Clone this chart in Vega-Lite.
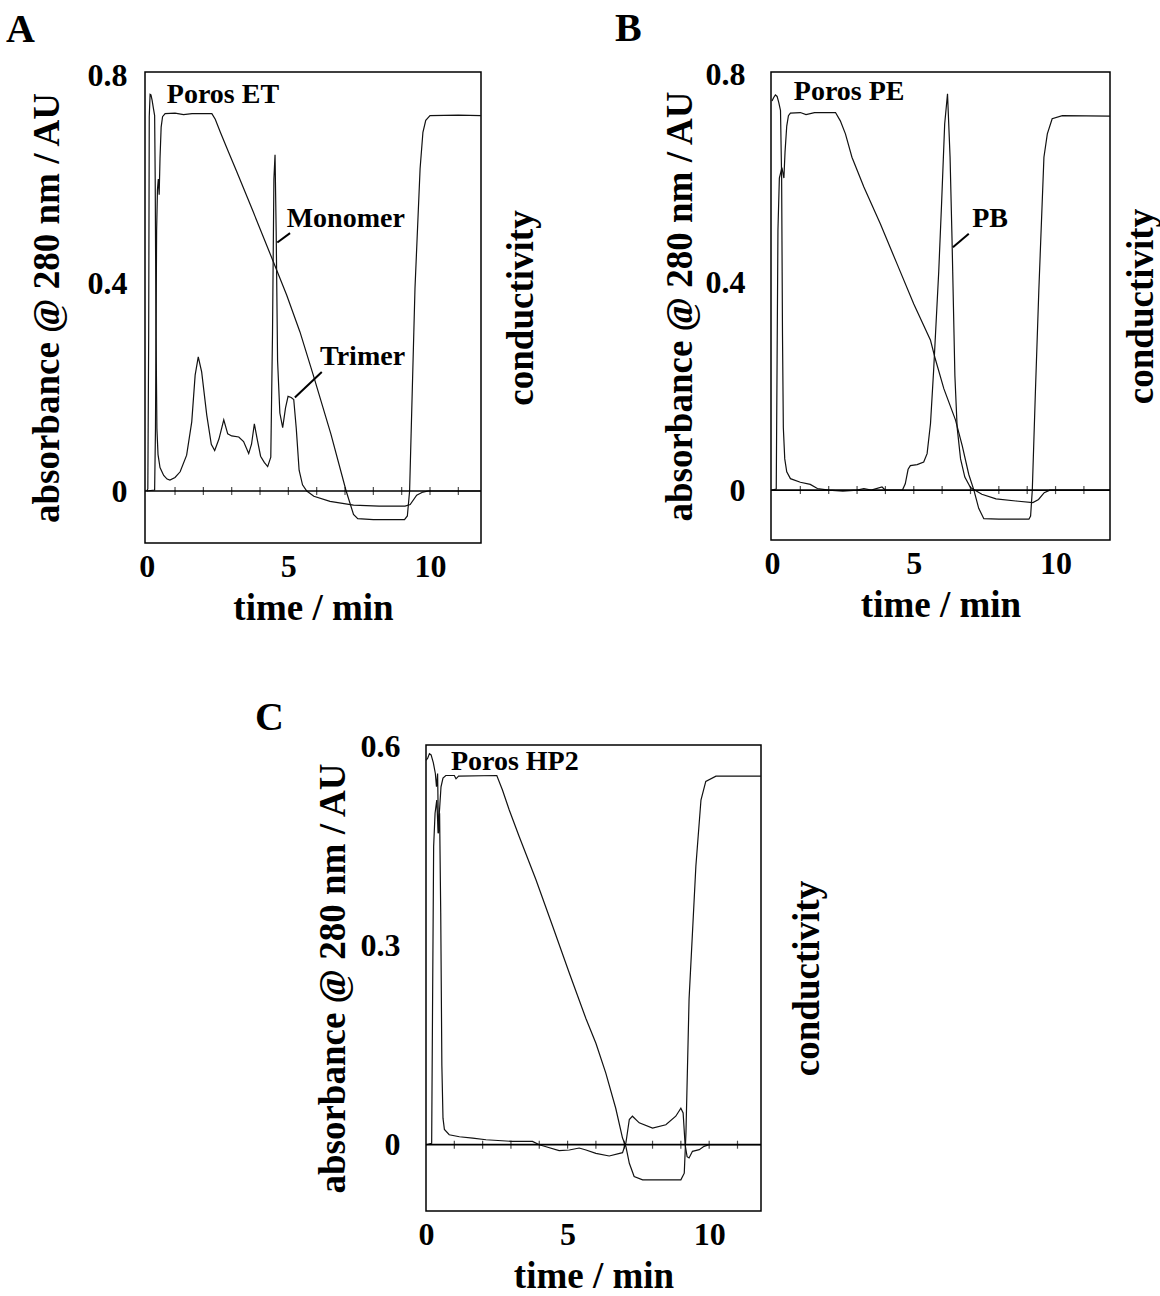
{
  "$schema": "https://vega.github.io/schema/vega-lite/v6.json",
  "padding": {"left": 5, "top": 8, "right": 0, "bottom": 0},
  "background": "white",
  "config": {
    "view": {"stroke": null},
    "font": "Liberation Serif",
    "axis": {
      "labelFont": "Liberation Serif", "labelFontWeight": "bold", "labelFontSize": 32, "labelColor": "black",
      "titleFont": "Liberation Serif", "titleFontWeight": "bold", "titleFontSize": 37, "titleColor": "black",
      "grid": false, "domain": false, "ticks": false, "labelFlush": false, "labelOverlap": false
    },
    "title": {"font": "Liberation Serif", "fontWeight": "bold", "fontSize": 40, "color": "black", "anchor": "start", "frame": "group"}
  },
  "datasets": {
    "ticks": [{"t": 1}, {"t": 2}, {"t": 3}, {"t": 4}, {"t": 5}, {"t": 6}, {"t": 7}, {"t": 8}, {"t": 9}, {"t": 10}, {"t": 11}],
    "zero": [{"v": 0}],
    "A_uv": [
      {"t":0,"v":0},{"t":0.04,"v":0.004},{"t":0.07,"v":0.3},{"t":0.09,"v":0.72},{"t":0.12,"v":0.763},{"t":0.15,"v":0.762},{"t":0.19,"v":0.752},{"t":0.24,"v":0.735},{"t":0.28,"v":0.722},{"t":0.3,"v":0.6},{"t":0.33,"v":0.3},{"t":0.36,"v":0.12},{"t":0.4,"v":0.07},{"t":0.47,"v":0.045},{"t":0.6,"v":0.03},{"t":0.72,"v":0.023},{"t":0.82,"v":0.021},{"t":1.0,"v":0.026},{"t":1.18,"v":0.037},{"t":1.41,"v":0.069},{"t":1.59,"v":0.133},{"t":1.71,"v":0.223},{"t":1.82,"v":0.258},{"t":1.94,"v":0.229},{"t":2.12,"v":0.146},{"t":2.28,"v":0.09},{"t":2.4,"v":0.078},{"t":2.55,"v":0.1},{"t":2.72,"v":0.137},{"t":2.86,"v":0.11},{"t":3.0,"v":0.106},{"t":3.25,"v":0.104},{"t":3.42,"v":0.095},{"t":3.6,"v":0.072},{"t":3.7,"v":0.09},{"t":3.8,"v":0.129},{"t":3.9,"v":0.1},{"t":4.02,"v":0.067},{"t":4.15,"v":0.055},{"t":4.27,"v":0.047},{"t":4.38,"v":0.065},{"t":4.44,"v":0.3},{"t":4.49,"v":0.6},{"t":4.53,"v":0.647},{"t":4.57,"v":0.5},{"t":4.62,"v":0.25},{"t":4.7,"v":0.15},{"t":4.8,"v":0.122},{"t":4.9,"v":0.16},{"t":4.99,"v":0.182},{"t":5.1,"v":0.18},{"t":5.19,"v":0.176},{"t":5.28,"v":0.12},{"t":5.38,"v":0.04},{"t":5.5,"v":0.012},{"t":5.65,"v":0.0},{"t":5.9,"v":-0.01},{"t":6.47,"v":-0.02},{"t":7.3,"v":-0.027},{"t":8.2,"v":-0.029},{"t":9.12,"v":-0.029},{"t":9.3,"v":-0.026},{"t":9.53,"v":-0.008},{"t":9.75,"v":-0.002},{"t":9.94,"v":0.0},{"t":11.8,"v":0.0}
    ],
    "A_cond": [
      {"t":0,"v":0},{"t":0.28,"v":0.002},{"t":0.31,"v":0.12},{"t":0.35,"v":0.5},{"t":0.38,"v":0.58},{"t":0.41,"v":0.6},{"t":0.44,"v":0.57},{"t":0.47,"v":0.64},{"t":0.51,"v":0.7},{"t":0.56,"v":0.72},{"t":0.65,"v":0.726},{"t":1.0,"v":0.727},{"t":1.3,"v":0.724},{"t":1.6,"v":0.726},{"t":2.3,"v":0.726},{"t":2.42,"v":0.715},{"t":2.6,"v":0.69},{"t":2.88,"v":0.653},{"t":3.18,"v":0.614},{"t":3.76,"v":0.537},{"t":4.47,"v":0.441},{"t":4.94,"v":0.377},{"t":5.41,"v":0.306},{"t":5.88,"v":0.223},{"t":6.5,"v":0.11},{"t":7.04,"v":0.0},{"t":7.3,"v":-0.045},{"t":7.45,"v":-0.053},{"t":8.0,"v":-0.055},{"t":9.1,"v":-0.055},{"t":9.2,"v":-0.048},{"t":9.28,"v":0.0},{"t":9.47,"v":0.39},{"t":9.65,"v":0.62},{"t":9.75,"v":0.69},{"t":9.85,"v":0.713},{"t":10.0,"v":0.722},{"t":11.0,"v":0.723},{"t":11.8,"v":0.722}
    ],
    "A_text": [
      {"t":0.71,"v":0.746,"label":"Poros ET"},
      {"t":4.94,"v":0.508,"label":"Monomer"},
      {"t":6.12,"v":0.242,"label":"Trimer"}
    ],
    "A_lead": [
      {"t":5.06,"v":0.496,"t2":4.61,"v2":0.478},
      {"t":6.18,"v":0.229,"t2":5.23,"v2":0.18}
    ],
    "B_uv": [
      {"t":0,"v":0.748},{"t":0.06,"v":0.755},{"t":0.12,"v":0.76},{"t":0.18,"v":0.757},{"t":0.24,"v":0.745},{"t":0.3,"v":0.73},{"t":0.34,"v":0.6},{"t":0.37,"v":0.3},{"t":0.4,"v":0.12},{"t":0.45,"v":0.06},{"t":0.52,"v":0.035},{"t":0.65,"v":0.022},{"t":1.0,"v":0.015},{"t":1.35,"v":0.011},{"t":1.6,"v":0.003},{"t":2.0,"v":0.0},{"t":2.5,"v":-0.002},{"t":3.0,"v":0.0},{"t":3.24,"v":0.003},{"t":3.5,"v":0.0},{"t":3.88,"v":0.006},{"t":4.0,"v":0.0},{"t":4.6,"v":0.0},{"t":4.7,"v":0.012},{"t":4.8,"v":0.04},{"t":4.88,"v":0.047},{"t":5.12,"v":0.049},{"t":5.35,"v":0.054},{"t":5.47,"v":0.07},{"t":5.59,"v":0.128},{"t":5.7,"v":0.23},{"t":5.88,"v":0.42},{"t":5.98,"v":0.55},{"t":6.09,"v":0.704},{"t":6.19,"v":0.762},{"t":6.28,"v":0.64},{"t":6.35,"v":0.48},{"t":6.45,"v":0.22},{"t":6.53,"v":0.12},{"t":6.65,"v":0.06},{"t":6.8,"v":0.025},{"t":7.0,"v":0.005},{"t":7.4,"v":-0.008},{"t":7.9,"v":-0.017},{"t":8.6,"v":-0.021},{"t":9.2,"v":-0.024},{"t":9.4,"v":-0.018},{"t":9.6,"v":-0.005},{"t":9.8,"v":0.0},{"t":11.92,"v":0.0}
    ],
    "B_cond": [
      {"t":0,"v":0},{"t":0.15,"v":0.002},{"t":0.18,"v":0.25},{"t":0.21,"v":0.5},{"t":0.26,"v":0.6},{"t":0.35,"v":0.62},{"t":0.42,"v":0.6},{"t":0.46,"v":0.65},{"t":0.52,"v":0.7},{"t":0.58,"v":0.72},{"t":0.65,"v":0.725},{"t":1.0,"v":0.726},{"t":1.2,"v":0.722},{"t":1.5,"v":0.726},{"t":2.24,"v":0.726},{"t":2.41,"v":0.71},{"t":2.59,"v":0.685},{"t":2.82,"v":0.64},{"t":3.24,"v":0.583},{"t":3.82,"v":0.512},{"t":4.41,"v":0.435},{"t":5.0,"v":0.358},{"t":5.59,"v":0.288},{"t":5.76,"v":0.252},{"t":6.06,"v":0.195},{"t":6.47,"v":0.135},{"t":6.71,"v":0.085},{"t":6.94,"v":0.03},{"t":7.12,"v":0.0},{"t":7.29,"v":-0.035},{"t":7.47,"v":-0.055},{"t":8.0,"v":-0.056},{"t":9.06,"v":-0.056},{"t":9.12,"v":-0.05},{"t":9.18,"v":0.0},{"t":9.29,"v":0.19},{"t":9.41,"v":0.384},{"t":9.59,"v":0.64},{"t":9.71,"v":0.685},{"t":9.88,"v":0.714},{"t":10.24,"v":0.72},{"t":11.92,"v":0.719}
    ],
    "B_text": [
      {"t":0.77,"v":0.75,"label":"Poros PE"},
      {"t":7.06,"v":0.506,"label":"PB"}
    ],
    "B_lead": [
      {"t":6.94,"v":0.493,"t2":6.38,"v2":0.467}
    ],
    "C_uv": [
      {"t":0,"v":0.58},{"t":0.06,"v":0.583},{"t":0.12,"v":0.59},{"t":0.18,"v":0.588},{"t":0.26,"v":0.576},{"t":0.33,"v":0.56},{"t":0.37,"v":0.54},{"t":0.41,"v":0.56},{"t":0.44,"v":0.47},{"t":0.48,"v":0.5},{"t":0.52,"v":0.35},{"t":0.56,"v":0.12},{"t":0.6,"v":0.04},{"t":0.65,"v":0.023},{"t":0.82,"v":0.015},{"t":1.18,"v":0.012},{"t":1.65,"v":0.01},{"t":2.12,"v":0.0075},{"t":3.06,"v":0.005},{"t":3.76,"v":0.005},{"t":4.0,"v":0.0},{"t":4.24,"v":-0.003},{"t":4.7,"v":-0.009},{"t":5.06,"v":-0.008},{"t":5.41,"v":-0.005},{"t":5.65,"v":-0.008},{"t":6.0,"v":-0.013},{"t":6.47,"v":-0.017},{"t":6.94,"v":-0.012},{"t":7.06,"v":0.003},{"t":7.18,"v":0.038},{"t":7.29,"v":0.043},{"t":7.53,"v":0.033},{"t":8.0,"v":0.025},{"t":8.47,"v":0.03},{"t":8.82,"v":0.043},{"t":9.0,"v":0.055},{"t":9.08,"v":0.048},{"t":9.15,"v":0.0},{"t":9.22,"v":-0.018},{"t":9.29,"v":-0.02},{"t":9.41,"v":-0.01},{"t":9.65,"v":-0.0075},{"t":9.82,"v":-0.0025},{"t":10.0,"v":0.0},{"t":11.83,"v":0.0}
    ],
    "C_cond": [
      {"t":0,"v":0},{"t":0.2,"v":0.002},{"t":0.23,"v":0.2},{"t":0.27,"v":0.45},{"t":0.32,"v":0.5},{"t":0.38,"v":0.52},{"t":0.43,"v":0.47},{"t":0.47,"v":0.5},{"t":0.53,"v":0.54},{"t":0.6,"v":0.553},{"t":0.7,"v":0.557},{"t":1.0,"v":0.557},{"t":1.06,"v":0.552},{"t":1.15,"v":0.556},{"t":2.5,"v":0.557},{"t":2.7,"v":0.535},{"t":2.94,"v":0.505},{"t":3.29,"v":0.465},{"t":3.88,"v":0.4},{"t":4.47,"v":0.33},{"t":5.06,"v":0.259},{"t":5.65,"v":0.19},{"t":6.0,"v":0.153},{"t":6.35,"v":0.108},{"t":6.7,"v":0.055},{"t":6.94,"v":0.01},{"t":7.06,"v":-0.003},{"t":7.18,"v":-0.028},{"t":7.35,"v":-0.048},{"t":7.65,"v":-0.053},{"t":9.0,"v":-0.053},{"t":9.12,"v":-0.043},{"t":9.18,"v":0.018},{"t":9.29,"v":0.22},{"t":9.53,"v":0.42},{"t":9.71,"v":0.52},{"t":9.88,"v":0.548},{"t":10.24,"v":0.556},{"t":11.83,"v":0.556}
    ],
    "C_text": [
      {"t":0.88,"v":0.566,"label":"Poros HP2"}
    ]
  },
  "vconcat": [
    {
      "hconcat": [
        {
          "title": {"text": "A", "dx": -139, "offset": 9},
          "width": 336, "height": 471,
          "view": {"stroke": "black", "strokeWidth": 1.5},
          "resolve": {"axis": {"x": "independent", "y": "independent"}},
          "layer": [
            {
              "data": {"name": "A_cond"},
              "mark": {"type": "line", "color": "#111", "strokeWidth": 1.2},
              "encoding": {
                "x": {"field": "t", "type": "quantitative", "scale": {"domain": [-0.06, 11.8], "nice": false, "zero": false},
                      "axis": {"orient": "bottom", "title": "time / min", "values": [0, 5, 10], "labelPadding": 8, "titlePadding": 8}},
                "y": {"field": "v", "type": "quantitative", "scale": {"domain": [-0.1, 0.806], "nice": false, "zero": false},
                      "axis": {"orient": "right", "title": "conductivity", "labels": false, "titleAngle": 270, "titleBaseline": "top", "titlePadding": 22}}
              }
            },
            {
              "data": {"name": "A_uv"},
              "mark": {"type": "line", "color": "#111", "strokeWidth": 1.2},
              "encoding": {
                "x": {"field": "t", "type": "quantitative", "axis": null},
                "y": {"field": "v", "type": "quantitative",
                      "axis": {"orient": "left", "title": "absorbance @ 280 nm / AU", "values": [0, 0.4, 0.8], "format": "~g", "labelPadding": 18, "titlePadding": 21}}
              }
            },
            {
              "data": {"name": "zero"},
              "mark": {"type": "rule", "color": "black", "strokeWidth": 1.7},
              "encoding": {"y": {"field": "v", "type": "quantitative", "axis": null}}
            },
            {
              "data": {"name": "ticks"},
              "mark": {"type": "tick", "orient": "vertical", "size": 8, "thickness": 1.2, "color": "black"},
              "encoding": {"x": {"field": "t", "type": "quantitative", "axis": null}, "y": {"datum": 0, "axis": null}}
            },
            {
              "data": {"name": "A_lead"},
              "mark": {"type": "rule", "color": "black", "strokeWidth": 2},
              "encoding": {
                "x": {"field": "t", "type": "quantitative", "axis": null}, "x2": {"field": "t2"},
                "y": {"field": "v", "type": "quantitative", "axis": null}, "y2": {"field": "v2"}
              }
            },
            {
              "data": {"name": "A_text"},
              "mark": {"type": "text", "align": "left", "baseline": "alphabetic", "font": "Liberation Serif", "fontWeight": "bold", "fontSize": 28, "color": "black"},
              "encoding": {
                "x": {"field": "t", "type": "quantitative", "axis": null},
                "y": {"field": "v", "type": "quantitative", "axis": null},
                "text": {"field": "label"}
              }
            }
          ]
        },
        {
          "title": {"text": "B", "dx": -156, "offset": 9},
          "width": 339, "height": 468,
          "view": {"stroke": "black", "strokeWidth": 1.5},
          "resolve": {"axis": {"x": "independent", "y": "independent"}},
          "layer": [
            {
              "data": {"name": "B_cond"},
              "mark": {"type": "line", "color": "#111", "strokeWidth": 1.2},
              "encoding": {
                "x": {"field": "t", "type": "quantitative", "scale": {"domain": [-0.035, 11.92], "nice": false, "zero": false},
                      "axis": {"orient": "bottom", "title": "time / min", "values": [0, 5, 10], "labelPadding": 8, "titlePadding": 8}},
                "y": {"field": "v", "type": "quantitative", "scale": {"domain": [-0.096, 0.804], "nice": false, "zero": false},
                      "axis": {"orient": "right", "title": "conductivity", "labels": false, "titleAngle": 270, "titleBaseline": "top", "titlePadding": 13}}
              }
            },
            {
              "data": {"name": "B_uv"},
              "mark": {"type": "line", "color": "#111", "strokeWidth": 1.2},
              "encoding": {
                "x": {"field": "t", "type": "quantitative", "axis": null},
                "y": {"field": "v", "type": "quantitative",
                      "axis": {"orient": "left", "title": "absorbance @ 280 nm / AU", "values": [0, 0.4, 0.8], "format": "~g", "labelPadding": 26, "titlePadding": 6}}
              }
            },
            {
              "data": {"name": "zero"},
              "mark": {"type": "rule", "color": "black", "strokeWidth": 1.7},
              "encoding": {"y": {"field": "v", "type": "quantitative", "axis": null}}
            },
            {
              "data": {"name": "ticks"},
              "mark": {"type": "tick", "orient": "vertical", "size": 8, "thickness": 1.2, "color": "black"},
              "encoding": {"x": {"field": "t", "type": "quantitative", "axis": null}, "y": {"datum": 0, "axis": null}}
            },
            {
              "data": {"name": "B_lead"},
              "mark": {"type": "rule", "color": "black", "strokeWidth": 2},
              "encoding": {
                "x": {"field": "t", "type": "quantitative", "axis": null}, "x2": {"field": "t2"},
                "y": {"field": "v", "type": "quantitative", "axis": null}, "y2": {"field": "v2"}
              }
            },
            {
              "data": {"name": "B_text"},
              "mark": {"type": "text", "align": "left", "baseline": "alphabetic", "font": "Liberation Serif", "fontWeight": "bold", "fontSize": 28, "color": "black"},
              "encoding": {
                "x": {"field": "t", "type": "quantitative", "axis": null},
                "y": {"field": "v", "type": "quantitative", "axis": null},
                "text": {"field": "label"}
              }
            }
          ]
        }
      ],
      "spacing": 74
    },
    {
      "hconcat": [
        {
          "width": 109, "height": 1,
          "data": {"values": [{}]},
          "mark": {"type": "point", "opacity": 0}
        },
        {
          "title": {"text": "C", "dx": -171, "offset": -7},
          "width": 335, "height": 466,
          "view": {"stroke": "black", "strokeWidth": 1.5},
          "resolve": {"axis": {"x": "independent", "y": "independent"}},
          "layer": [
            {
              "data": {"name": "C_cond"},
              "mark": {"type": "line", "color": "#111", "strokeWidth": 1.2},
              "encoding": {
                "x": {"field": "t", "type": "quantitative", "scale": {"domain": [0, 11.83], "nice": false, "zero": false},
                      "axis": {"orient": "bottom", "title": "time / min", "values": [0, 5, 10], "labelPadding": 8, "titlePadding": 8}},
                "y": {"field": "v", "type": "quantitative", "scale": {"domain": [-0.1, 0.603], "nice": false, "zero": false},
                      "axis": {"orient": "right", "title": "conductivity", "labels": false, "titleAngle": 270, "titleBaseline": "top", "titlePadding": 28}}
              }
            },
            {
              "data": {"name": "C_uv"},
              "mark": {"type": "line", "color": "#111", "strokeWidth": 1.2},
              "encoding": {
                "x": {"field": "t", "type": "quantitative", "axis": null},
                "y": {"field": "v", "type": "quantitative",
                      "axis": {"orient": "left", "title": "absorbance @ 280 nm / AU", "values": [0, 0.3, 0.6], "format": "~g", "labelPadding": 26, "titlePadding": 8}}
              }
            },
            {
              "data": {"name": "zero"},
              "mark": {"type": "rule", "color": "black", "strokeWidth": 1.7},
              "encoding": {"y": {"field": "v", "type": "quantitative", "axis": null}}
            },
            {
              "data": {"name": "ticks"},
              "mark": {"type": "tick", "orient": "vertical", "size": 8, "thickness": 1.2, "color": "black"},
              "encoding": {"x": {"field": "t", "type": "quantitative", "axis": null}, "y": {"datum": 0, "axis": null}}
            },
            {
              "data": {"name": "C_text"},
              "mark": {"type": "text", "align": "left", "baseline": "alphabetic", "font": "Liberation Serif", "fontWeight": "bold", "fontSize": 28, "color": "black"},
              "encoding": {
                "x": {"field": "t", "type": "quantitative", "axis": null},
                "y": {"field": "v", "type": "quantitative", "axis": null},
                "text": {"field": "label"}
              }
            }
          ]
        }
      ],
      "spacing": 0
    }
  ],
  "spacing": 70
}
